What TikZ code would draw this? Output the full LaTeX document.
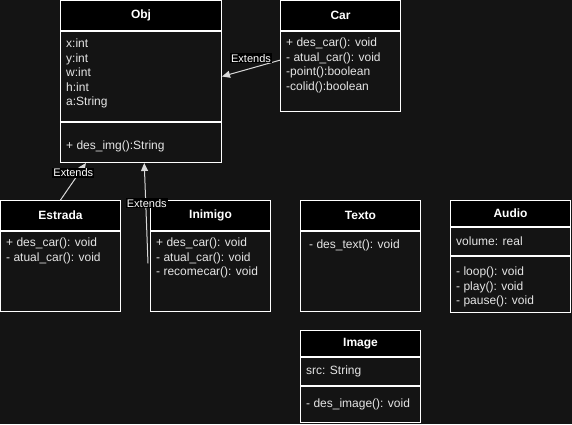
\documentclass[tikz,border=0pt]{standalone}
\usepackage{fontspec}
\setmainfont{Liberation Sans}
\usetikzlibrary{
    arrows.meta,
    positioning,
    calc
}
\tikzset{
    % Colors
    canvas color/.style={black!92!white},
    member color/.style={white!90!black},
    link color/.style={white!85!black},
    %
    % Class boxes
    class head/.style={draw=white,fill=black,line width=1pt,inner sep=0pt,anchor=north west,
        text=white,font=\bfseries\fontsize{12}{14.5}\selectfont},
    class part/.style={draw=white,fill=black!92!white,line width=1pt,inner sep=0pt,anchor=north},
    members/.style={member color,font=\fontsize{12}{14.5}\selectfont,align=left,inner sep=0pt,
        anchor=north west,execute at begin node=\strut},
    %
    % Arrows
    arrow tip/.tip={Triangle[width=7pt,length=8pt]},
    extends/.style={-{arrow tip},link color,line width=1pt},
    extends label/.style={fill=black,text=white,font=\fontsize{11}{13}\selectfont,inner sep=1pt}
}

\begin{document}
\begin{tikzpicture}[x=1pt,y=-1pt]
        \fill[canvas color] (0,0) rectangle (572,424);
        \useasboundingbox (0,0) rectangle (572,424);

        % Obj
        \node[class head,minimum width=161pt,minimum height=30pt] (obj) at (60,0) {Obj};
        \node[class part,minimum width=161pt,minimum height=90pt] (obj attr) at (obj.south) {};
        \node[class part,minimum width=161pt,minimum height=40pt] (obj meth) at (obj attr.south) {};
        \node[members] (obj attr text) at ([shift={(6pt,-7.85pt)}]obj attr.north west) {x:int\\y:int\\w:int\\h:int\\a:String};
        \node[members] (obj meth text) at ([shift={(6pt,-16.85pt)}]obj meth.north west) {+ des\_img():String};

        % Car
        \node[class head,minimum width=120pt,minimum height=30pt] (car) at (280,0) {Car};
        \node[class part,minimum width=120pt,minimum height=80pt] (car body) at (car.south) {};
        \node[members] (car text) at ([shift={(6pt,-6.85pt)}]car body.north west)
            {+ des\_car(): void\\- atual\_car(): void\\-point():boolean\\-colid():boolean};

        % Estrada
        \node[class head,minimum width=120pt,minimum height=30pt] (estrada) at (0,200) {Estrada};
        \node[class part,minimum width=120pt,minimum height=80pt] (estrada body) at (estrada.south) {};
        \node[members] (estrada text) at ([shift={(6pt,-6.85pt)}]estrada body.north west)
            {+ des\_car(): void\\- atual\_car(): void};

        % Inimigo
        \node[class head,minimum width=120pt,minimum height=30pt] (inimigo) at (150,200) {Inimigo};
        \node[class part,minimum width=120pt,minimum height=80pt] (inimigo body) at (inimigo.south) {};
        \node[members] (inimigo text) at ([shift={(6pt,-6.85pt)}]inimigo body.north west)
            {+ des\_car(): void\\- atual\_car(): void\\- recomecar(): void};

        % Texto
        \node[class head,minimum width=120pt,minimum height=30pt] (texto) at (300,200) {Texto};
        \node[class part,minimum width=120pt,minimum height=80pt] (texto body) at (texto.south) {};
        \node[members] (texto text) at ([shift={(9pt,-6.85pt)}]texto body.north west) {- des\_text(): void};

        % Audio
        \node[class head,minimum width=120pt,minimum height=26pt] (audio) at (450,200) {Audio};
        \node[class part,minimum width=120pt,minimum height=28pt] (audio attr) at (audio.south) {};
        \node[class part,minimum width=120pt,minimum height=56pt] (audio meth) at (audio attr.south) {};
        \node[members] (audio attr text) at ([shift={(6pt,-7.85pt)}]audio attr.north west) {volume: real};
        \node[members] (audio meth text) at ([shift={(6pt,-10.85pt)}]audio meth.north west)
            {- loop(): void\\- play(): void\\- pause(): void};

        % Image
        \node[class head,minimum width=120pt,minimum height=26pt] (image) at (300,330) {Image};
        \node[class part,minimum width=120pt,minimum height=28pt] (image attr) at (image.south) {};
        \node[class part,minimum width=120pt,minimum height=36pt] (image meth) at (image attr.south) {};
        \node[members] (image attr text) at ([shift={(6pt,-6.85pt)}]image attr.north west) {src: String};
        \node[members] (image meth text) at ([shift={(6pt,-10.85pt)}]image meth.north west) {- des\_image(): void};

        % Extends
        \draw[extends] ($(car body.north west)!0.36!(car body.south west)$) -- (obj attr.east)
            node[extends label,pos=0.5,yshift=10pt] {Extends};
        \draw[extends] (estrada.north) -- ($(obj meth.south west)!0.16!(obj meth.south east)$)
            node[extends label,pos=0.74,xshift=-6pt] {Extends};
        \draw[extends] ($(inimigo body.north west)!0.4!(inimigo body.south west)+(-2pt,0pt)$)
            -- ($(obj meth.south west)!0.52!(obj meth.south east)$)
            node[extends label,pos=0.6,xshift=1pt] {Extends};
    \end{tikzpicture}
\end{document}
